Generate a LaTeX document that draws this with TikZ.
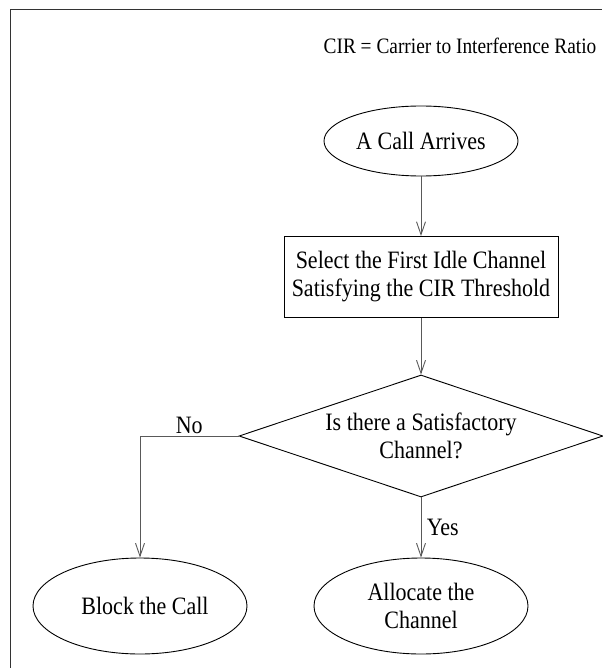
\documentclass[tikz,border=0pt]{standalone}
\usepackage{fontspec}
\setmainfont{Liberation Serif}[FakeStretch=0.88]
\usetikzlibrary{shapes.geometric,arrows.meta}
\begin{document}
\begin{tikzpicture}[x=1pt,y=-1pt,
  every node/.style={font=\fontsize{25}{28}\selectfont},
  frameline/.style={line width=1pt, draw=black!80},
  shapeline/.style={draw, line width=0.9pt},
  oval/.style={shapeline, ellipse, inner sep=0pt},
  conn/.style={-{Straight Barb[length=13pt,width=9pt,line width=0.9pt]}, line width=0.9pt, draw=black!65}]
\useasboundingbox (0,0) rectangle (602,668);
\coordinate (fb) at (10,668);
\coordinate (fc) at (10,10);
\coordinate (fr) at (602,10);
\draw[frameline] (fb) -- (fc) -- (fr);
\node[font=\fontsize{22}{26}\selectfont] (cir) at (460,46) {CIR = Carrier to Interference Ratio};
\node[oval, minimum width=194, minimum height=70] (arr) at (421,141) {A Call Arrives};
\node[shapeline, minimum width=274, minimum height=81, align=center, inner sep=0pt] (sel) at (421,277) {Select the First Idle Channel\\Satisfying the CIR Threshold};
\node[shapeline, diamond, minimum width=364, minimum height=122, inner sep=0pt] (dec) at (421,436) {};
\node[align=center] (dect) at (dec) {Is there a Satisfactory\\Channel?};
\node[oval, minimum width=214, minimum height=96] (blk) at (140,606) {};
\node (blkt) at ([xshift=5pt]blk.center) {Block the Call};
\node[oval, minimum width=214, minimum height=96, align=center] (alc) at (421,606) {Allocate the\\Channel};
\draw[conn] (arr) -- (sel);
\draw[conn] (sel) -- (dec);
\draw[conn] (dec.south) -- (alc.north) node[pos=0.5, right, xshift=2pt] {Yes};
\draw[conn] (dec.west) -| (blk.north) node[pos=0.25, above, yshift=-2pt] {No};
\end{tikzpicture}
\end{document}
